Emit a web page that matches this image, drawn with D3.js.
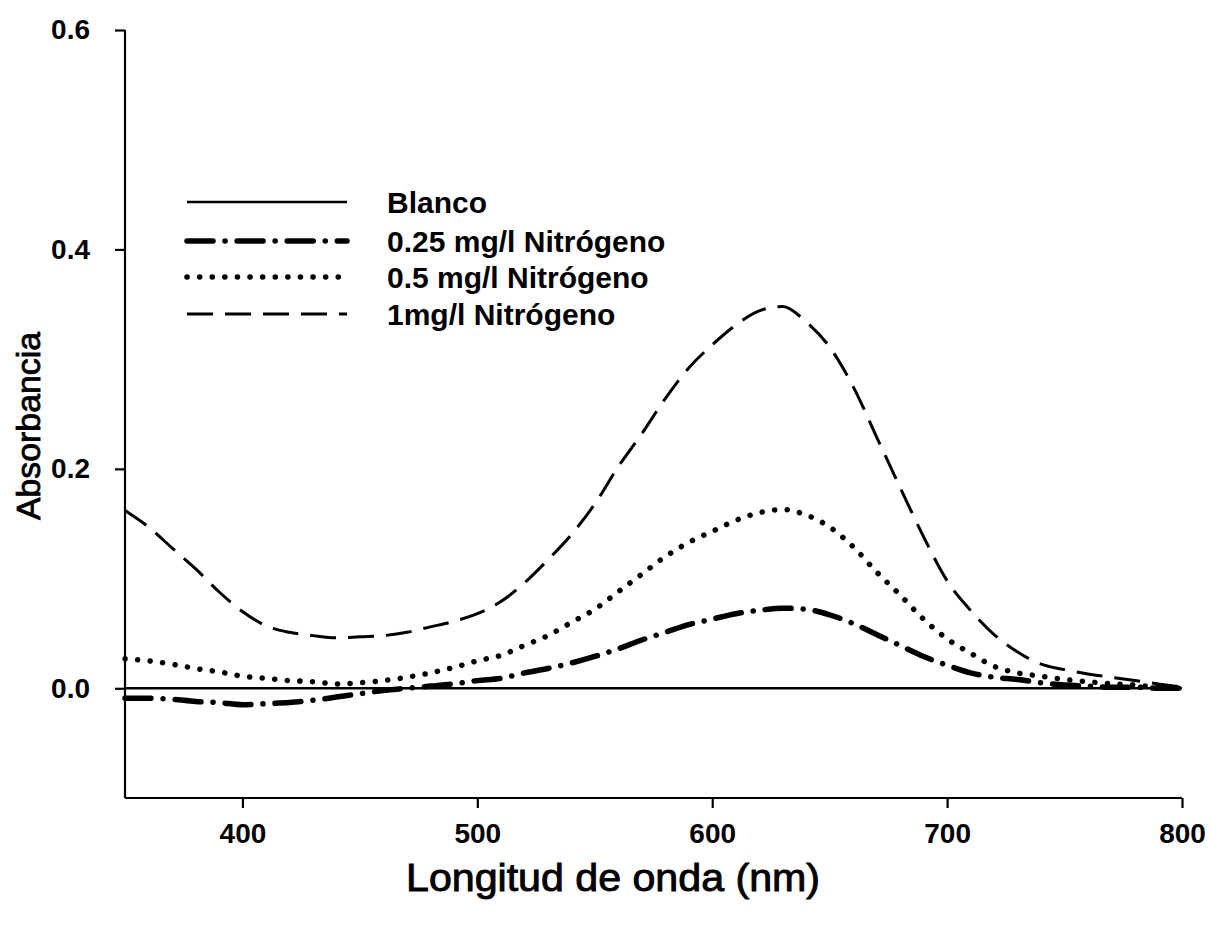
<!DOCTYPE html>
<html>
<head>
<meta charset="utf-8">
<script src="https://cdn.jsdelivr.net/npm/d3@7"></script>
<style>
  html, body { margin: 0; padding: 0; background: #fff; }
  svg { display: block; }
  text { fill: #000; font-family: "Liberation Sans", Arial, sans-serif; }
</style>
</head>
<body>
<svg id="chart" width="1210" height="925"></svg>
<script>
// Wavelengths (nm) at which each spectrum is sampled
const wavelengths = [350,360,370,380,390,400,410,420,430,440,450,460,470,480,490,500,
  510,520,530,540,550,560,570,580,590,600,610,620,630,640,650,660,670,680,690,700,
  710,720,730,740,750,760,770,780,790,800];

// Absorbance of each standard
const blanco = wavelengths.map(() => 0);
const n025 = [-0.009,-0.009,-0.010,-0.012,-0.013,-0.015,-0.014,-0.013,-0.011,-0.008,-0.005,-0.002,
  0.000,0.002,0.004,0.007,0.009,0.014,0.018,0.023,0.029,0.036,0.044,0.051,0.058,0.063,
  0.068,0.071,0.073,0.072,0.067,0.059,0.049,0.039,0.029,0.021,0.014,0.010,0.008,0.005,
  0.003,0.002,0.001,0.001,0.000,0.000];
const n05 = [0.027,0.025,0.022,0.018,0.015,0.011,0.009,0.007,0.006,0.004,0.005,0.007,
  0.010,0.014,0.019,0.025,0.030,0.039,0.048,0.060,0.072,0.088,0.104,0.120,0.133,0.143,
  0.153,0.160,0.163,0.158,0.147,0.129,0.106,0.085,0.063,0.045,0.032,0.020,0.014,0.011,
  0.008,0.006,0.004,0.003,0.001,0.000];
const n1 = [0.162,0.147,0.128,0.109,0.088,0.070,0.057,0.051,0.048,0.046,0.047,0.048,
  0.051,0.056,0.061,0.068,0.079,0.096,0.117,0.140,0.168,0.202,0.232,0.264,0.292,0.313,
  0.331,0.344,0.348,0.334,0.311,0.275,0.229,0.183,0.138,0.098,0.071,0.049,0.033,0.022,
  0.017,0.013,0.010,0.007,0.004,0.001];

const seriesNames = ["Blanco", "0.25 mg/l Nitrógeno", "0.5 mg/l Nitrógeno", "1mg/l Nitrógeno"];
const seriesValues = [blanco, n025, n05, n1];

const xTicks = [400, 500, 600, 700, 800];
const yTicks = [0.0, 0.2, 0.4, 0.6];

// Line style for each series (solid, dash-dot, dotted, dashed)
const styles = [
  { width: 2.6, dash: null, cap: "butt" },
  { width: 5.5, dash: "26,12,0.1,12", cap: "round" },
  { width: 5.5, dash: "0.1,12.5", cap: "round" },
  { width: 3, dash: "26,12", cap: "butt" }
];

const svg = d3.select("#chart");

const x = d3.scaleLinear().domain([350, 800]).range([125, 1182]);
const y = d3.scaleLinear().domain([-0.1, 0.6]).range([798, 30]);

// Axes: left and bottom only, ticks pointing outward
const yAxis = d3.axisLeft(y).tickValues(yTicks).tickSize(10).tickPadding(25)
  .tickFormat(d3.format(".1f"));
const xAxis = d3.axisBottom(x).tickValues(xTicks).tickSize(10).tickPadding(15)
  .tickFormat(d3.format("d"));

const gy = svg.append("g").attr("transform", `translate(${x(350)},0)`).call(yAxis);
const gx = svg.append("g").attr("transform", `translate(0,${y(-0.1)})`).call(xAxis);

[gy, gx].forEach(g => {
  g.select(".domain").attr("stroke", "#000").attr("stroke-width", 2.2);
  g.selectAll(".tick line").attr("stroke", "#000").attr("stroke-width", 2.2);
  g.selectAll(".tick text")
    .attr("font-size", 28).attr("font-weight", "bold")
    .attr("font-family", "'Liberation Sans', Arial, sans-serif")
    .attr("fill", "#000");
});
// Axis domain paths without the outer end caps
gy.select(".domain").attr("d", `M0,${y(0.6)}V${y(-0.1)}`);
gx.select(".domain").attr("d", `M${x(350)},0H${x(800)}`);

// Spectra
const line = d3.line()
  .x((d, i) => x(wavelengths[i]))
  .y(d => y(d))
  .curve(d3.curveMonotoneX);

const plot = svg.append("g");
seriesValues.forEach((vals, k) => {
  const s = styles[k];
  plot.append("path")
    .datum(vals)
    .attr("d", line)
    .attr("fill", "none")
    .attr("stroke", "#000")
    .attr("stroke-width", s.width)
    .attr("stroke-linecap", s.cap)
    .attr("stroke-dasharray", s.dash);
});

// Legend
const legendY = [202, 241, 277, 314];
const legend = svg.append("g");
seriesNames.forEach((name, k) => {
  const s = styles[k];
  legend.append("line")
    .attr("x1", 187).attr("x2", 347)
    .attr("y1", legendY[k]).attr("y2", legendY[k])
    .attr("stroke", "#000")
    .attr("stroke-width", s.width)
    .attr("stroke-linecap", s.cap)
    .attr("stroke-dasharray", s.dash);
  legend.append("text")
    .attr("x", 387).attr("y", legendY[k])
    .attr("dy", "0.36em")
    .attr("font-size", 30).attr("font-weight", "bold")
    .text(name);
});

// Axis titles (medium weight: regular face with a thin outline)
svg.append("text")
  .attr("x", 613).attr("y", 891)
  .attr("text-anchor", "middle")
  .attr("font-size", 38)
  .attr("textLength", 414).attr("lengthAdjust", "spacingAndGlyphs")
  .attr("stroke", "#000").attr("stroke-width", 0.9)
  .text("Longitud de onda (nm)");

svg.append("text")
  .attr("transform", "translate(40,426) rotate(-90)")
  .attr("text-anchor", "middle")
  .attr("font-size", 33)
  .attr("textLength", 188).attr("lengthAdjust", "spacingAndGlyphs")
  .attr("stroke", "#000").attr("stroke-width", 0.8)
  .text("Absorbancia");
</script>
</body>
</html>
